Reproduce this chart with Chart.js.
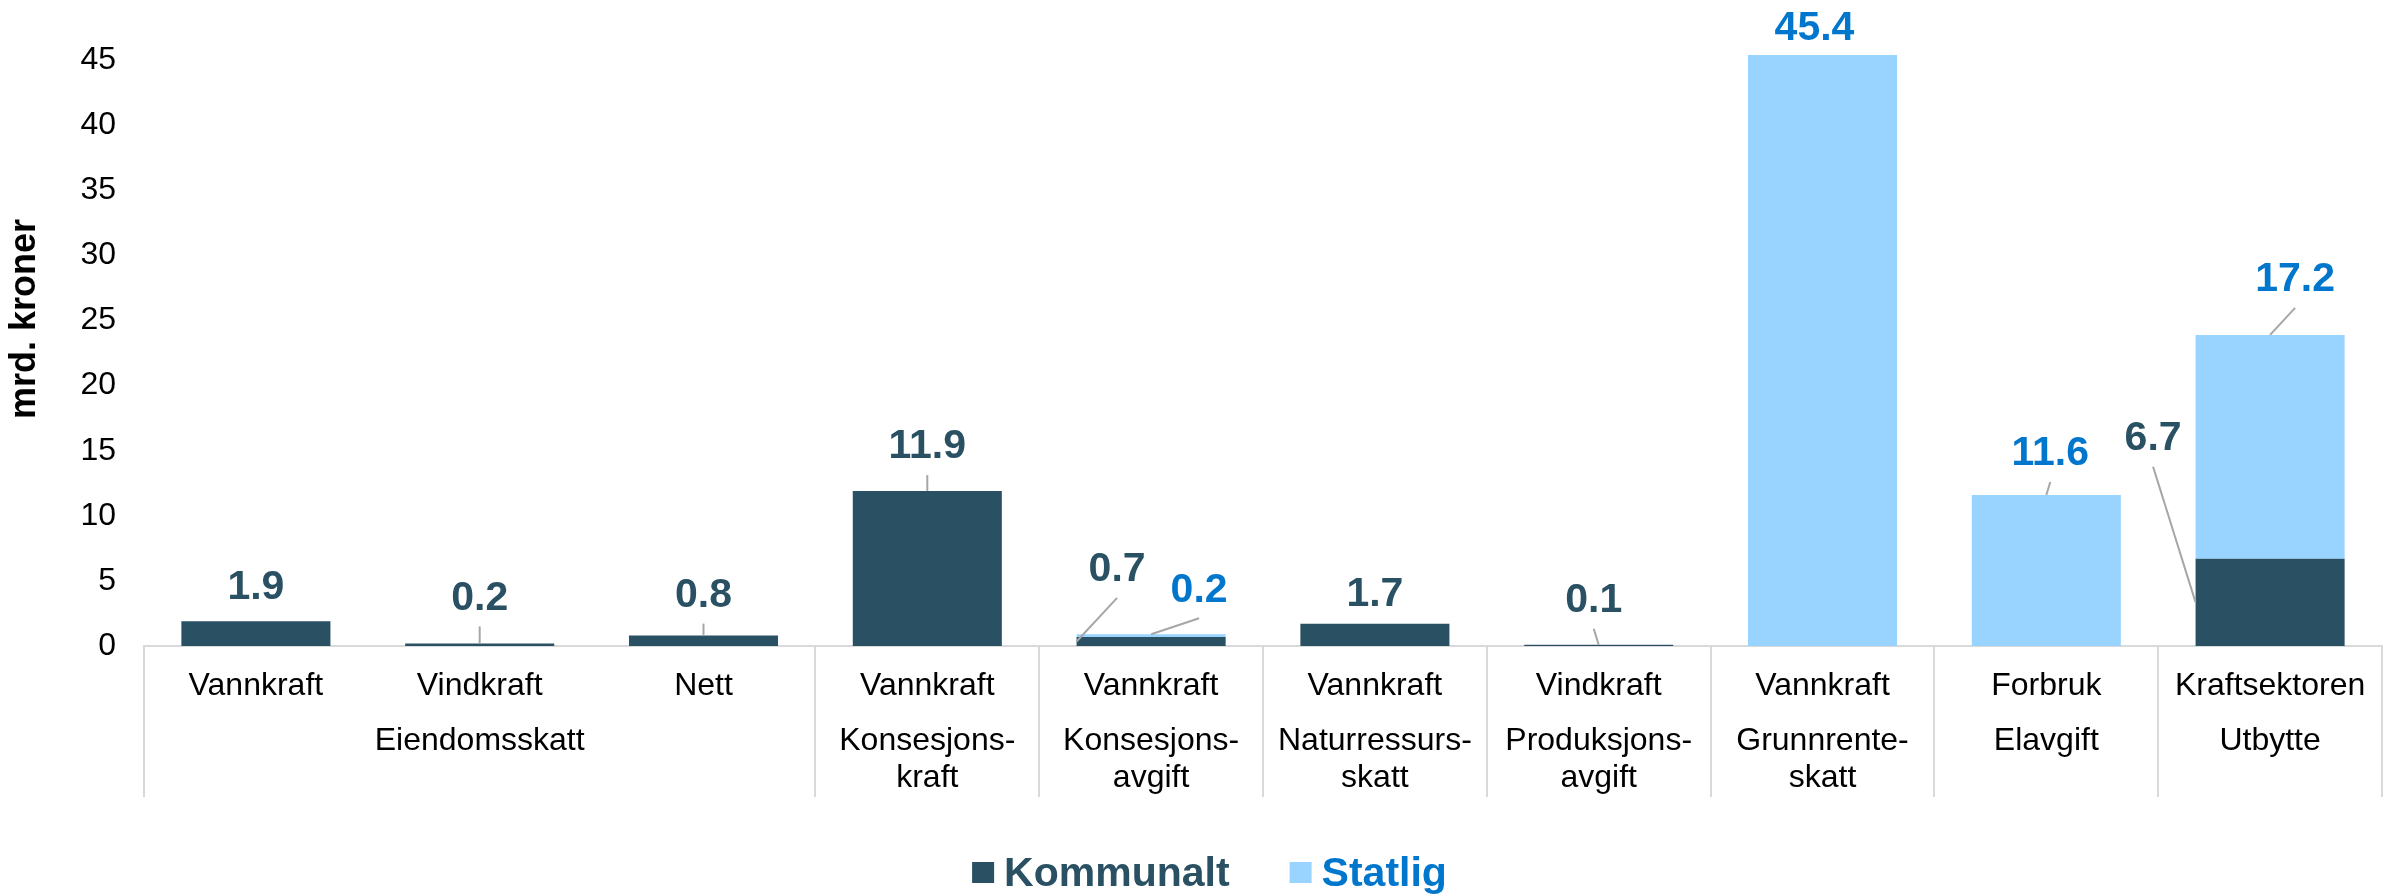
<!DOCTYPE html>
<html lang="no">
<head>
<meta charset="utf-8">
<title>Skatter og avgifter fra kraftsektoren</title>
<script src="https://cdn.jsdelivr.net/npm/chart.js@4.4.1/dist/chart.umd.min.js"></script>
<style>
  html, body { margin: 0; padding: 0; background: #fff; }
  #wrap { width: 2395px; height: 895px; }
</style>
</head>
<body>
<div id="wrap"><canvas id="chart" width="2395" height="895"></canvas></div>
<script>
// --- data ---
const subLabels = ['Vannkraft', 'Vindkraft', 'Nett', 'Vannkraft', 'Vannkraft', 'Vannkraft',
                   'Vindkraft', 'Vannkraft', 'Forbruk', 'Kraftsektoren'];
const groupLabels = [['Eiendomsskatt'], ['Konsesjons-', 'kraft'], ['Konsesjons-', 'avgift'],
                     ['Naturressurs-', 'skatt'], ['Produksjons-', 'avgift'], ['Grunnrente-', 'skatt'],
                     ['Elavgift'], ['Utbytte']];
const groupSpans = [3, 1, 1, 1, 1, 1, 1, 1];
const kommunalt = [1.9, 0.2, 0.8, 11.9, 0.7, 1.7, 0.1, null, null, 6.7];
const statlig = [null, null, null, null, 0.2, null, null, 45.4, 11.6, 17.2];
const yTicks = [0, 5, 10, 15, 20, 25, 30, 35, 40, 45];
const seriesNames = ['Kommunalt', 'Statlig'];
const yTitle = 'mrd. kroner';

// --- styling ---
const FONT = '"Liberation Sans", Arial, sans-serif';
const barColors = ['#295063', '#99D3FF'];
const labelColors = ['#295063', '#0077CC'];
const lineGrey = '#A6A6A6';
const axisGrey = '#D9D9D9';

// where each value label sits relative to the top of its bar segment (px);
// to:'left' means the leader line goes to the left edge of the segment
const labelPlacement = [
  [{dx: 0, dy: -34}, {dx: 0, dy: -45}, {dx: 0, dy: -40}, {dx: 0, dy: -44}, {dx: -34, dy: -67, to: 'left'},
   {dx: 0, dy: -29}, {dx: -5, dy: -44}, null, null, {dx: -117, dy: -120, to: 'left'}],
  [null, null, null, null, {dx: 48, dy: -44}, null, null, {dx: -8, dy: -26}, {dx: 4, dy: -41}, {dx: 25, dy: -55}]
];

// value labels with leader lines
const valueLabels = {
  id: 'valueLabels',
  afterDatasetsDraw(chart) {
    const ctx = chart.ctx;
    ctx.save();
    chart.data.datasets.forEach((ds, d) => {
      const meta = chart.getDatasetMeta(d);
      meta.data.forEach((bar, i) => {
        const v = ds.data[i];
        const p = labelPlacement[d][i];
        if (v == null || !p) return;
        const lx = bar.x + p.dx;
        const ly = bar.y + p.dy;
        let tx = bar.x, ty = bar.y;
        if (p.to === 'left') {
          tx = bar.x - bar.width / 2;
          ty = (bar.y + bar.base) / 2;
        }
        const sy = ly + 28;
        if (ty - sy > 8) {
          ctx.strokeStyle = lineGrey;
          ctx.lineWidth = 2;
          ctx.beginPath();
          ctx.moveTo(lx, sy);
          ctx.lineTo(tx, ty);
          ctx.stroke();
        }
        ctx.fillStyle = labelColors[d];
        ctx.font = 'bold 41px ' + FONT;
        ctx.textAlign = 'center';
        ctx.textBaseline = 'middle';
        ctx.fillText(v.toFixed(1), lx, ly);
      });
    });
    ctx.restore();
  }
};

// two-level category axis, y title and legend
const extras = {
  id: 'extras',
  afterDraw(chart) {
    const {ctx, chartArea} = chart;
    const x = chart.scales.x;
    const y0 = chartArea.bottom;
    const n = subLabels.length;
    const edge = k => k === 0 ? chartArea.left : k === n ? chartArea.right
      : (x.getPixelForValue(k - 1) + x.getPixelForValue(k)) / 2;

    ctx.save();
    ctx.fillStyle = '#000';
    ctx.font = '32px ' + FONT;
    ctx.textAlign = 'center';
    ctx.textBaseline = 'alphabetic';
    subLabels.forEach((t, i) => ctx.fillText(t, x.getPixelForValue(i), y0 + 49));

    const bounds = [0];
    let start = 0;
    groupLabels.forEach((lines, g) => {
      const end = start + groupSpans[g];
      const cx = (edge(start) + edge(end)) / 2;
      lines.forEach((t, j) => ctx.fillText(t, cx, y0 + 104 + j * 37));
      bounds.push(end);
      start = end;
    });

    ctx.strokeStyle = axisGrey;
    ctx.lineWidth = 2;
    bounds.forEach(k => {
      const px = Math.round(edge(k));
      ctx.beginPath();
      ctx.moveTo(px, y0);
      ctx.lineTo(px, y0 + 151);
      ctx.stroke();
    });

    // y axis title
    ctx.save();
    ctx.translate(25, 319);
    ctx.rotate(-Math.PI / 2);
    ctx.font = 'bold 36px ' + FONT;
    ctx.fillStyle = '#000';
    ctx.textBaseline = 'middle';
    ctx.fillText(yTitle, 0, 0);
    ctx.restore();

    // legend
    ctx.font = 'bold 41px ' + FONT;
    ctx.textAlign = 'left';
    const box = 22, gap = 10, between = 60;
    const widths = seriesNames.map(s => ctx.measureText(s).width);
    const total = widths.reduce((s, w) => s + box + gap + w, 0) + between * (seriesNames.length - 1);
    let lx = chart.width / 2 + 12 - total / 2;
    seriesNames.forEach((s, i) => {
      ctx.fillStyle = barColors[i];
      ctx.fillRect(lx, 862, box, 21);
      ctx.fillStyle = labelColors[i];
      ctx.fillText(s, lx + box + gap, 886);
      lx += box + gap + widths[i] + between;
    });
    ctx.restore();
  }
};

new Chart(document.getElementById('chart'), {
  type: 'bar',
  data: {
    labels: subLabels,
    datasets: [
      {label: seriesNames[0], data: kommunalt, backgroundColor: barColors[0]},
      {label: seriesNames[1], data: statlig, backgroundColor: barColors[1]}
    ]
  },
  options: {
    responsive: false,
    animation: false,
    devicePixelRatio: 1,
    layout: {padding: {top: 46, right: 13, left: 0, bottom: 0}},
    datasets: {bar: {barPercentage: 0.666, categoryPercentage: 1}},
    plugins: {legend: {display: false}, tooltip: {enabled: false}},
    scales: {
      x: {
        stacked: true,
        grid: {display: false},
        border: {display: true, color: axisGrey, width: 2},
        ticks: {display: false},
        afterFit(scale) { scale.height = 249; }
      },
      y: {
        stacked: true,
        min: 0,
        max: 46,
        grid: {display: false, drawTicks: false},
        border: {display: false},
        afterFit(scale) { scale.width = 144; },
        afterBuildTicks(scale) { scale.ticks = yTicks.map(v => ({value: v})); },
        ticks: {
          padding: 28,
          color: '#000',
          font: {family: FONT, size: 32},
          callback: v => String(v)
        }
      }
    }
  },
  plugins: [valueLabels, extras]
});
</script>
</body>
</html>
